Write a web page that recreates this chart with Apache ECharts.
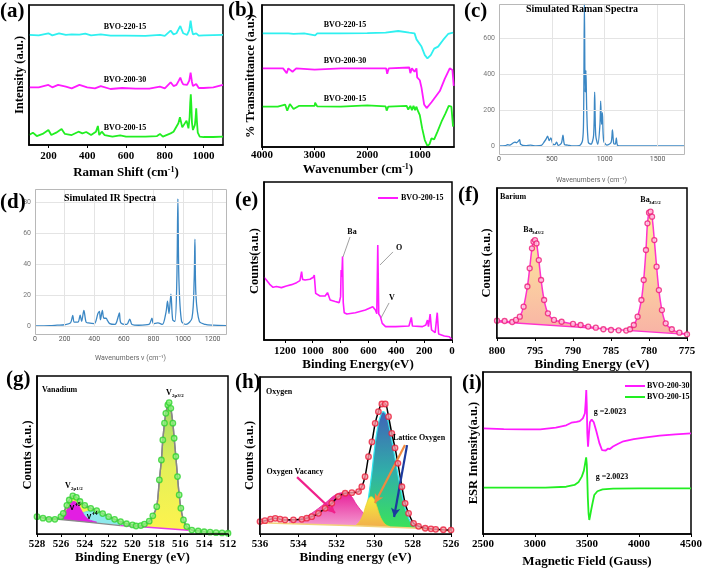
<!DOCTYPE html>
<html><head><meta charset="utf-8">
<script src="https://cdn.jsdelivr.net/npm/echarts@6/dist/echarts.min.js"></script>
<style>html,body{margin:0;padding:0;background:#fff}#c{width:705px;height:569px}</style>
</head><body><div id="c"></div>
<script>
// ---------------- DATA ----------------
// (a) Raman
const aTicks = [200,400,600,800,1000];
const ramanG = [[100,7.1],[120,8.8],[140,6.4],[170,7.9],[200,10.7],[215,7.1],[240,8.8],[268,11.4],[285,7.9],[320,7.1],[355,9.5],[375,8.3],[395,9.3],[420,7.1],[445,9.5],[455,13.6],[462,7.1],[475,9.5],[490,7.1],[530,6.0],[570,6.9],[600,6.0],[650,6.0],[700,6.0],[760,6.4],[775,7.9],[790,6.0],[830,8.3],[845,9.5],[855,8.3],[870,15.5],[878,19.8],[890,12.6],[900,11.9],[912,17.4],[922,11.9],[928,20],[931,30],[934,36.2],[937,28],[940,16],[945,10.7],[955,14.3],[959,20],[962,26.2],[966,16],[970,8.8],[980,6.0],[1000,5.7],[1050,5.7],[1100,6.0]];
const ramanM = [[100,41.2],[150,41.2],[200,42.9],[220,41.2],[250,42.9],[290,41.7],[320,40.5],[360,42.9],[400,41.2],[440,40.5],[470,42.1],[520,40],[580,40.7],[650,40.2],[720,40.2],[775,41.7],[800,40.5],[830,44.8],[845,42.1],[860,42.9],[872,46],[880,48.1],[888,45],[895,43.3],[915,42.9],[926,46],[933,51.7],[940,45],[945,42.1],[962,43.6],[975,40.7],[1000,40.7],[1050,41.2],[1100,42.9]];
const ramanC = [[100,78.6],[150,78.3],[200,79.8],[220,78.3],[255,79.8],[290,78.6],[320,79.0],[360,78.8],[390,79.5],[420,78.3],[470,79.0],[520,78.1],[600,78.1],[700,77.9],[775,78.6],[800,77.9],[830,81.7],[845,79.0],[860,79.8],[872,83],[880,85],[888,82],[895,79.8],[915,78.6],[926,82],[933,88.8],[940,82],[945,79.0],[962,79.8],[975,78.1],[1000,78.3],[1100,78.6]];
// (b) FTIR
const bTicks = [1000,2000,3000,4000];
const ftirC = [[4000,80],[3700,80],[3500,80],[3490,78.9],[3400,79.6],[3200,80],[2990,78.6],[2950,80],[2500,80],[2000,80.2],[1650,80.5],[1620,79.2],[1410,81.7],[1200,80.5],[1100,80],[1063,75.8],[1040,77],[968,70.7],[905,64.7],[855,62.4],[791,64.7],[727,69.3],[652,70.7],[557,75.4],[462,79.6],[368,80.5]];
const ftirM = [[4000,55.4],[3600,55.4],[3530,52],[3500,55.4],[3420,53],[3350,55.4],[3000,54.5],[2500,55.4],[2000,55.4],[1640,55.4],[1620,51.5],[1590,55.4],[1200,56],[1180,52],[1150,55.4],[1100,53],[1063,55.4],[1050,49],[1000,47],[968,41.8],[918,30],[870,27.4],[840,28.2],[778,31.5],[715,34.7],[620,39.4],[526,48],[431,55.4],[380,54.2],[355,43]];
const ftirG = [[4000,28.4],[3700,28.4],[3560,29.9],[3520,25.6],[3470,30.3],[3400,26.8],[3300,28.9],[3000,28.9],[2990,31.2],[2950,28.6],[2500,28.4],[2000,29.3],[1650,28.6],[1630,25.6],[1600,28.4],[1250,28.9],[1220,26.3],[1180,29],[1150,26],[1120,29],[1090,26],[1063,28.4],[1044,26.1],[1000,22.5],[955,13.1],[905,4.9],[855,0.7],[815,2],[778,6.1],[727,5.4],[664,10.8],[588,17.8],[512,23.7],[450,28.9],[400,28.4],[368,14.3]];
// (c) simulated Raman
const cXTicks = [0,500,1000,1500];
const cYTicks = [0,200,400,600];
const simRaman = [[0,0],[60,2],[80,7],[100,5],[130,15],[150,22],[165,18],[180,25],[195,35],[205,10],[250,2],[300,5],[350,0],[400,3],[430,25],[445,38],[460,55],[475,30],[490,45],[510,10],[530,8],[545,22],[560,3],[590,15],[605,60],[620,8],[650,5],[700,0],[760,2],[790,30],[800,150],[808,790],[815,300],[822,420],[830,200],[845,20],[870,10],[895,60],[905,300],[915,60],[935,10],[955,120],[962,250],[970,120],[978,185],[990,30],[1020,5],[1060,20],[1073,90],[1085,15],[1100,10],[1110,45],[1120,5],[1150,0],[1750,0]];
// (d) simulated IR
const dXTicks = [0,200,400,600,800,1000,1200];
const dYTicks = [0,20,40,60,80];
const simIR = [[0,0],[100,0.2],[150,0.5],[200,0.8],[240,2],[255,6.9],[265,2.5],[290,2.5],[305,7],[315,3],[330,10],[345,2.5],[360,2],[400,1.5],[425,8],[435,9.5],[442,4],[455,10],[465,5],[480,5],[490,3.5],[505,1.5],[540,1],[565,7],[570,8.5],[580,2],[620,1],[640,4.5],[655,1],[700,0.5],[770,1],[790,5],[800,1.5],[830,2],[860,1],[885,9],[895,16],[905,8],[918,20.5],[930,4],[945,3],[958,30],[965,82],[972,30],[990,3],[1020,1],[1060,5],[1075,30],[1080,56],[1087,20],[1110,3],[1150,1],[1200,0.5],[1290,0.3]];
// (e) XPS survey
const eTicks = [0,200,400,600,800,1000,1200];
const xpsSurvey = [[1350,41.8],[1333,40],[1309,37.1],[1285,35.1],[1261,35.6],[1225,34.9],[1189,36],[1152,36.9],[1116,38.2],[1092,39.6],[1080,45.6],[1073,40.4],[1055,40],[1020,40.5],[996,41.8],[989,43.3],[979,31.1],[948,29.3],[911,29.3],[894,31.6],[875,26.7],[839,25.6],[810,24.9],[800,28.9],[796,46.7],[791,42],[786,55.6],[781,25],[774,18.2],[755,17.3],[694,18.2],[622,20],[569,22.2],[559,23.1],[550,20],[540,17.5],[533,63.3],[526,17.3],[514,15.6],[501,11.1],[477,8.9],[405,8.9],[309,9.3],[292,15.1],[284,9.3],[212,8.9],[188,10],[176,13.3],[169,8.9],[157,17.3],[147,6.7],[121,4.9],[106,18.2],[96,4],[55,2.7],[19,2.2],[0,0]];
// (f) Ba 3d
const baEnv = [[800,11.7],[799,11.5],[798,10.8],[797.5,12.2],[797,14.4],[796.5,21.2],[796,34.8],[795.7,47.1],[795.4,60.6],[795.2,65.1],[795,66.2],[794.8,63.9],[794.5,52.7],[794.2,39.2],[793.8,25.7],[793.3,16.7],[792.5,12.2],[791.5,11],[790,9.5],[789,8.8],[788,7.7],[787,7],[786,5.9],[785,5.4],[784,5.2],[783,5],[782.5,5.9],[782,8.8],[781.5,14.4],[781,25.7],[780.7,39.2],[780.4,59.5],[780.2,77.5],[780,84.7],[779.8,85.4],[779.6,82],[779.3,66.2],[779,48.2],[778.7,32.4],[778.3,18.9],[777.8,9.9],[777,5.9],[776,3.6],[775,2.5]];
const baBase = [[800,11],[775,2.5]];
// (g) V 2p
const vEnv = [[528,11.5],[527.5,10.5],[527,9.7],[526.5,9.7],[526,11.5],[525.8,13.7],[525.5,19],[525.3,22.5],[525,25.2],[524.7,24.3],[524.4,21.5],[524,19],[523.5,17],[523,15.5],[522.5,13.5],[522,11.5],[521.5,9.7],[521,8.2],[520.5,6.8],[520,6],[519.7,5.3],[519.3,5.6],[519,6.6],[518.6,8.5],[518.3,12],[517.97,18.1],[517.75,35.8],[517.58,49],[517.46,62.3],[517.32,73.4],[517.21,79.9],[517.04,85.4],[516.93,87],[516.79,83.2],[516.62,73.4],[516.51,63.4],[516.37,51.3],[516.23,38],[516.09,25.9],[515.95,17.1],[515.73,9.3],[515.45,4.9],[515.03,2.6],[514.5,2],[514,1.5],[513.5,1.2],[513,0.9],[512.5,0.7],[512,0.5]];
const vBaseL = [[528,11.3],[526,9.6],[524,8],[522,6.4],[521,5.6]];
const vBaseR = [[521,5.6],[519,4.6],[517,3.5],[515.3,2.5]];
const vBaseAll = [[528,11.3],[526,9.6],[524,8],[522,6.4],[521,5.6],[519,4.6],[517,3.5],[515,2.3],[512,0.5]];
const vPlus5 = [[526.3,9.8],[526,10.5],[525.7,13],[525.4,17.5],[525.1,21],[524.9,21.5],[524.6,20],[524.3,16],[524,12],[523.7,9.8],[523.3,8.5],[523,8]];
const vPlus4 = [[526.5,9.4],[526,10],[525.5,10.8],[525,11.8],[524.5,13],[524,14.5],[523.5,15.3],[523,15.2],[522.5,14],[522,12],[521.5,9],[521,7],[520.5,5.8],[520,5.2]];
// (h) O 1s
const oEnv = [[536,8.2],[535.74,8.8],[535.45,9.8],[535.2,10.4],[534.95,9.8],[534.69,9.3],[534.25,9.4],[533.81,9.7],[533.55,10.5],[533.29,11.5],[532.94,13.7],[532.59,17],[532.24,20.3],[531.9,24.8],[531.54,27],[531.19,27.4],[530.84,28.1],[530.67,31.3],[530.5,38],[530.32,51.2],[530.14,61],[529.97,73.3],[529.8,81],[529.62,86.1],[529.44,86.1],[529.27,77.7],[529.1,66.7],[528.93,57],[528.78,46.8],[528.57,31.3],[528.4,20.3],[528.22,13.7],[527.96,7.1],[527.7,5.1],[527.35,3.8],[527.05,3.4],[526.8,3.1],[526.4,2.8],[526,2.6]];
const oBase = [[536,7.5],[531,5.5],[528,4],[526,2.2]];
const oVac = [[534.5,9.3],[533.8,10.2],[533.3,13.7],[532.6,20.3],[532.07,25.8],[531.66,27.4],[531.28,25.8],[530.93,19.2],[530.58,13.7],[530.32,10.4],[529.8,8.2],[529.3,7.4]];
const oMid = [[531,5.5],[530.8,8],[530.6,13],[530.45,19],[530.3,23.5],[530.18,24.7],[530.05,23.5],[529.9,19],[529.75,13],[529.6,9],[529.4,6],[529.2,5]];
const oLat = [[530.9,5.5],[530.6,9],[530.4,18],[530.3,26],[530.15,40],[530,57],[529.85,70],[529.7,78],[529.55,81],[529.4,79],[529.25,72],[529.1,62],[528.9,48],[528.7,34],[528.55,25],[528.4,17],[528.2,10],[528,6],[527.8,4.5]];
// (i) ESR
const esrM = [[2500,70],[2700,69.5],[2900,69.3],[3050,69.3],[3200,70.5],[3300,72],[3350,73.7],[3400,74.2],[3430,74.8],[3460,76.6],[3480,80],[3488,88],[3493,95.4],[3498,85],[3503,66.7],[3510,57.9],[3518,66],[3528,74],[3545,75.9],[3565,74],[3590,68],[3620,60],[3645,55.5],[3660,55],[3680,55.3],[3700,56.5],[3720,56.3],[3750,57.9],[3800,59.8],[3850,61.4],[3950,62.8],[4050,63.8],[4200,65.1],[4350,66],[4500,66.7]];
const esrG = [[2500,30.7],[2800,30.7],[3100,30.7],[3300,31.3],[3380,32.5],[3420,34.5],[3450,38],[3470,42],[3482,46.8],[3492,50.8],[3498,46],[3503,36],[3508,24],[3515,13.7],[3522,9.3],[3530,12],[3540,15.9],[3555,21],[3570,25.8],[3600,28.3],[3650,29.6],[3750,30.1],[4000,30.2],[4500,30.2]];

// ---------------- STYLE / LAYOUT ----------------
const F = '"Liberation Serif","Times New Roman",serif';
const S = 'Roboto, "Open Sans", sans-serif';
const fmt = v => String(v);
const grids = [
  {left:29, top:5, width:194, height:140},
  {left:262, top:5, width:192, height:142},
  {left:499, top:4, width:185, height:142},
  {left:35, top:189, width:191, height:137},
  {left:264, top:182, width:188, height:158},
  {left:497, top:188, width:190, height:150},
  {left:37, top:376, width:191, height:158},
  {left:260, top:377, width:191, height:157},
  {left:483, top:372, width:210, height:162}
];
function merge(a,b){ const o = Array.isArray(a)?a.slice():Object.assign({},a); for(const k in b){ if(b[k] && typeof b[k]==='object' && !Array.isArray(b[k]) && a[k] && typeof a[k]==='object'){ o[k]=merge(a[k],b[k]); } else o[k]=b[k]; } return o; }
const supRich = {s:{fontSize:8, fontWeight:'bold', fontFamily:F, color:'#000', verticalAlign:'top', lineHeight:8, padding:[0,0,6,0]}};
function bx(gi, o){ return merge({gridIndex:gi, type:'value', z:10,
  axisLine:{show:true, onZero:false, lineStyle:{color:'#000', width:1.5}},
  axisTick:{show:true, length:3, lineStyle:{color:'#000', width:1}},
  splitLine:{show:false},
  axisLabel:{color:'#000', fontFamily:F, fontWeight:'bold', fontSize:11, margin:5, showMinLabel:true, showMaxLabel:true, hideOverlap:false, formatter:fmt},
  nameLocation:'middle',
  nameTextStyle:{color:'#000', fontFamily:F, fontWeight:'bold', fontSize:13, rich:supRich}}, o); }
function by(gi, o){ return merge({gridIndex:gi, type:'value', z:10,
  axisLine:{show:true, onZero:false, lineStyle:{color:'#000', width:1.5}},
  axisTick:{show:false}, splitLine:{show:false}, axisLabel:{show:false},
  nameLocation:'middle', nameRotate:90,
  nameTextStyle:{color:'#000', fontFamily:F, fontWeight:'bold', fontSize:12.5}}, o); }
function sx(gi, o){ return merge({gridIndex:gi, type:'value', z:10,
  axisLine:{show:false}, axisTick:{show:false},
  splitLine:{show:true, lineStyle:{color:'#e4e4e4', width:1}},
  axisLabel:{color:'#555', fontFamily:S, fontSize:7, margin:5, hideOverlap:false, formatter:fmt},
  nameLocation:'middle', nameTextStyle:{color:'#666', fontFamily:S, fontSize:7}}, o); }

const xAxis = [
  bx(0,{min:100,max:1100, axisLabel:{customValues:aTicks, margin:6}, axisTick:{customValues:aTicks}, name:'Raman Shift (cm{s|-1})', nameGap:21}),
  bx(1,{min:350,max:4000, inverse:true, axisLabel:{customValues:bTicks, margin:3}, axisTick:{customValues:bTicks}, name:'Wavenumber (cm{s|-1})', nameGap:16}),
  sx(2,{min:0,max:1750, axisLabel:{customValues:cXTicks, margin:9.5}, axisTick:{customValues:cXTicks}, name:'Wavenumbers ν (cm⁻¹)', nameGap:31}),
  sx(3,{min:0,max:1290, axisLabel:{customValues:dXTicks, margin:9.5}, axisTick:{customValues:dXTicks}, name:'Wavenumbers ν (cm⁻¹)', nameGap:29}),
  bx(4,{min:0,max:1350, inverse:true, axisLabel:{customValues:eTicks, margin:6}, axisTick:{customValues:eTicks}, name:'Binding Energy(eV)', nameGap:16}),
  bx(5,{min:775,max:800, inverse:true, interval:5, axisLabel:{margin:8}, name:'Binding Energy (eV)', nameGap:18}),
  bx(6,{min:512,max:528, inverse:true, interval:2, axisLabel:{margin:5}, name:'Binding Energy (eV)', nameGap:16}),
  bx(7,{min:526,max:536, inverse:true, interval:2, axisLabel:{margin:5}, name:'Binding energy (eV)', nameGap:16}),
  bx(8,{min:2500,max:4500, interval:500, axisLabel:{margin:5}, name:'Magnetic Field (Gauss)', nameGap:21})
];
const yAxis = [
  by(0,{min:0,max:100, name:'Intensity (a.u.)', nameGap:3}),
  by(1,{min:0,max:100, name:'% Transmittance (a.u.)', nameGap:5}),
  sx(2,{min:0,max:790, axisLabel:{show:false}, axisTick:{customValues:cYTicks}}),
  sx(3,{min:0,max:88.4, axisLabel:{show:false}, axisTick:{customValues:dYTicks}}),
  by(4,{min:0,max:105.3, name:'Counts(a.u.)', nameGap:3}),
  by(5,{min:0,max:101.4, name:'Counts (a.u.)', nameGap:4}),
  by(6,{min:0,max:104.6, name:'Counts (a.u.)', nameGap:3}),
  by(7,{min:0,max:104, name:'Counts (a.u.)', nameGap:4}),
  by(8,{min:0,max:107.3, name:'ESR Intensity(a.u.)', nameGap:3})
];
const gridOpts = grids.map((g,i)=>Object.assign({show:!(i===2||i===3), borderColor:'#000', borderWidth:1.5, backgroundColor:'transparent'}, g));

function L(gi, data, color, w, extra){ return Object.assign({type:'line', xAxisIndex:gi, yAxisIndex:gi, data, symbol:'none', showSymbol:false, silent:true, lineStyle:{color, width:w}, z:3}, extra||{}); }
function grad(top, bottom, mid){ const cs=[{offset:0,color:top}]; if(mid) cs.push({offset:0.5,color:mid}); cs.push({offset:1,color:bottom}); return new echarts.graphic.LinearGradient(0,0,0,1,cs); }
function pts(gi, data, fill, border, size, z){ return {type:'scatter', xAxisIndex:gi, yAxisIndex:gi, data, symbol:'circle', symbolSize:size, silent:true, itemStyle:{color:fill, borderColor:border, borderWidth:1.3}, z:z||6}; }
function arrowML(from, to, color, w, sym){ return {silent:true, symbol:['none', sym||'arrow'], symbolSize:sym==='none'?0:[w*3.2, w*4], label:{show:false}, lineStyle:{color, width:w, type:'solid'}, data:[[{coord:from},{coord:to}]]}; }
// y tick labels for the two simulated panels, placed through the axis scale at the left edge
function yTickLabels(gi, xmin, ticks){ return {type:'scatter', xAxisIndex:gi, yAxisIndex:gi, data:ticks.map(v=>[xmin,v]), symbolSize:0, silent:true, clip:false, z:10,
  label:{show:true, position:'left', distance:4, color:'#555', fontFamily:S, fontSize:7, formatter:p=>String(p.value[1])}}; }

const series = [
  // (a)
  L(0, ramanC, '#2ff0f0', 1.8), L(0, ramanM, '#ff1aff', 1.8), L(0, ramanG, '#22ee22', 1.8),
  // (b)
  L(1, ftirC, '#2ff0f0', 1.8), L(1, ftirM, '#ff1aff', 1.8), L(1, ftirG, '#22ee22', 1.8),
  // (c), (d)
  L(2, simRaman, '#3b87c4', 1.3, {smooth:0.3}),
  L(3, simIR, '#3b87c4', 1.3, {smooth:0.3}),
  yTickLabels(2, 0, cYTicks), yTickLabels(3, 0, dYTicks),
  // (e)
  L(4, xpsSurvey, '#ff1aff', 1.6, {markLine: arrowML([732,68.7],[783,55.3],'#888',0.8,'none')}),
  L(4, [[1350,-10]], '#ff1aff', 1, {markLine: arrowML([424,58.7],[517,50],'#888',0.8,'none')}),
  L(4, [[1350,-10]], '#ff1aff', 1, {markLine: arrowML([452,24.7],[510,14.7],'#888',0.8,'none')}),
  // (f)
  L(5, baEnv, '#ff33cc', 1.5, {smooth:0.35, areaStyle:{color:grad('#fff49a','#f8b0a6'), opacity:1}, z:2}),
  L(5, baBase, '#ff33cc', 1.3, {areaStyle:{color:'#fff', opacity:1}, z:3}),
  pts(5, baEnv, '#ffd0e4', '#ee1a78', 5),
  // (g)
  L(6, vEnv, '#888', 1.4, {smooth:0.3, areaStyle:{color:grad('#9ddc66','#fff34d','#e5f058'), opacity:1}, z:2}),
  L(6, vPlus4, '#66dde0', 0.8, {smooth:0.4, areaStyle:{color:'#8de9ec', opacity:1}, z:2.2}),
  L(6, vPlus5, '#dd22dd', 0.8, {smooth:0.4, areaStyle:{color:'#e21ee2', opacity:1}, z:2.4}),
  L(6, vBaseAll, '#fff', 0, {areaStyle:{color:'#fff', opacity:1}, z:2.6}),
  L(6, vBaseL, '#8a8a8a', 1.3, {z:3}),
  L(6, vBaseR, '#e63ce6', 1.5, {z:3}),
  L(6, vEnv, '#888', 1.4, {smooth:0.3, z:4}),
  pts(6, vEnv, '#8cf27a', '#2fd22f', 5.5),
  // (h)
  L(7, oVac, '#e8209a', 0.8, {smooth:0.4, areaStyle:{color:grad('#e8209a','#f6b6dc'), opacity:1}, z:2}),
  L(7, oLat, '#34e8f0', 1.2, {smooth:0.4, areaStyle:{color:grad('#4063b8','#3ce852','#30b0a8'), opacity:1}, z:2.2}),
  L(7, oMid, '#f0d030', 0.8, {smooth:0.4, areaStyle:{color:grad('#f6ee3c','#f0a050'), opacity:1}, z:2.4}),
  L(7, oBase, '#fff', 0, {areaStyle:{color:'#fff', opacity:1}, z:2.6}),
  L(7, oBase, '#f2d27a', 1.5, {z:3,
    markLine: arrowML([534.06,37.7],[532.07,13.9],'#f0208a',2.2)}),
  L(7, [[536,-10]], '#fff', 0, {z:3, markLine: arrowML([528.41,58.9],[529.98,20.5],'#f08a40',2.2)}),
  L(7, [[536,-10]], '#fff', 0, {z:3, markLine: arrowML([528.30,58.9],[528.98,11.3],'#1c3a9e',2.2)}),
  L(7, oEnv, '#000', 1.5, {smooth:0.3, z:4}),
  pts(7, oEnv, '#ff9aa8', '#e8203c', 5.5),
  // (i)
  L(8, esrM, '#ff1aff', 1.8), L(8, esrG, '#22ee22', 1.8)
];

function T(x, y, text, size, o){ o=o||{}; return {type:'text', x, y, z:100, silent:true, style:{text, font:(o.w||'bold')+' '+size+'px '+(o.f||F), fill:o.c||'#000', align:o.a||'center', textAlign:o.a||'center', verticalAlign:'middle', textVerticalAlign:'middle'}}; }
function Ln(x1,y1,x2,y2,c,w){ return {type:'line', z:100, silent:true, shape:{x1,y1,x2,y2}, style:{stroke:c, lineWidth:w}}; }
function Box(x,y,w,h){ return {type:'rect', z:50, silent:true, shape:{x:x+0.5,y:y+0.5,width:w,height:h}, style:{fill:'none', stroke:'#b8b8b8', lineWidth:1}}; }
const graphic = [
  Box(499,4,185,150), Box(35,189,191,145),
  T(0,12,'(a)',21,{a:'left'}), T(228,11,'(b)',21,{a:'left'}), T(464,12,'(c)',21,{a:'left'}),
  T(0,203,'(d)',21,{a:'left'}), T(235,201,'(e)',21,{a:'left'}), T(458,196,'(f)',21,{a:'left'}),
  T(6,380,'(g)',21,{a:'left'}), T(235,383,'(h)',21,{a:'left'}), T(462,384,'(i)',21,{a:'left'}),
  T(125,27,'BVO-220-15',8), T(125,80,'BVO-200-30',8), T(125,128,'BVO-200-15',8),
  T(345,25,'BVO-220-15',8), T(345,61,'BVO-200-30',8), T(345,99,'BVO-200-15',8),
  T(582,9,'Simulated Raman Spectra',10), T(110,198,'Simulated IR Spectra',10),
  Ln(378,198,398,198,'#ff1aff',2), T(401,198,'BVO-200-15',8,{a:'left'}),
  T(352,232,'Ba',8), T(399,248,'O',8), T(392,298,'V',8),
  T(500,197,'Barium',8,{a:'left'}),
  T(528,230,'Ba',8), T(532,233,'3d3/2',5,{a:'left'}),
  T(645,200,'Ba',8), T(649,203,'3d5/2',5,{a:'left'}),
  T(42,390,'Vanadium',8,{a:'left'}),
  T(169,393,'V',8), T(172,396,'2p3/2',5,{a:'left'}),
  T(68,486,'V',8), T(71,489,'2p1/2',5,{a:'left'}),
  T(72,508,'V',7,{f:S}), T(75,505,'+5',5,{a:'left',f:S}),
  T(89,517,'V',7,{f:S}), T(92,514,'+4',5,{a:'left',f:S}),
  T(266,392,'Oxygen',8,{a:'left'}),
  T(295,472,'Oxygen Vacancy',8), T(419,438,'Lattice Oxygen',8),
  Ln(625,386,645,386,'#ff1aff',2), T(647,386,'BVO-200-30',8,{a:'left'}),
  Ln(625,397,645,397,'#22ee22',2), T(647,397,'BVO-200-15',8,{a:'left'}),
  T(610,412,'g =2.0023',8), T(612,477,'g =2.0023',8)
];

const chart = echarts.init(document.getElementById('c'));
chart.setOption({animation:false, backgroundColor:'#fff', grid:gridOpts, xAxis, yAxis, series, graphic});
</script></body></html>
